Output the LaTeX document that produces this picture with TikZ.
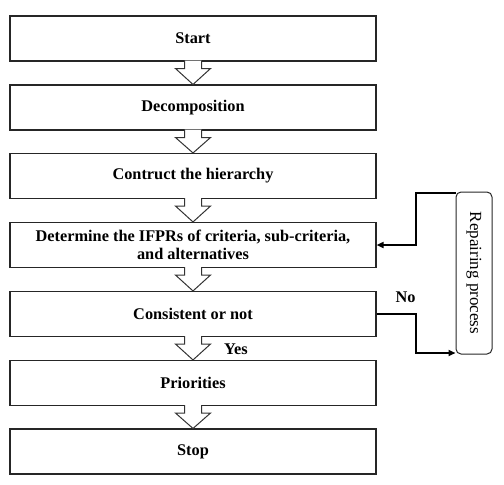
\documentclass[tikz,border=0pt]{standalone}
\usepackage{fontspec}
\setmainfont{Liberation Serif}
\usetikzlibrary{calc,arrows.meta}
\tikzset{
  box/.style={draw=black!85, line width=1.1pt, minimum width=366pt, minimum height=45pt, inner sep=0pt, align=center, font=\fontsize{16.3}{17.5}\selectfont\bfseries},
  hollow/.style={draw=black!80, line width=1pt, fill=white, line join=miter},
  conn/.style={draw=black, line width=1.6pt, -{Triangle[length=7pt,width=6pt]}},
  lbl/.style={font=\fontsize{16.3}{18}\selectfont\bfseries, inner sep=0pt}
}
\newcommand{\harrow}[2]{%
  \path[hollow] ($(#1.south)+(-8.5pt,1pt)$) -- ($(#1.south)+(-8.5pt,-7pt)$) -- ($(#1.south)+(-17.5pt,-7pt)$) -- (#2.north) -- ($(#1.south)+(17.5pt,-7pt)$) -- ($(#1.south)+(8.5pt,-7pt)$) -- ($(#1.south)+(8.5pt,1pt)$);}
\begin{document}
\begin{tikzpicture}[x=1pt,y=-1pt]
\useasboundingbox (0,0) rectangle (504,485);
\node[box] (b1) at (193,38.5) {Start};
\node[box] (b2) at (193,107.5) {Decomposition};
\node[box] (b3) at (193,176) {Contruct the hierarchy};
\node[box] (b4) at (193,245) {Determine the IFPRs of criteria, sub-criteria,\\and alternatives};
\node[box] (b5) at (193,314) {Consistent or not};
\node[box] (b6) at (193,383) {Priorities};
\node[box] (b7) at (193,451.5) {Stop};
\harrow{b1}{b2}
\harrow{b2}{b3}
\harrow{b3}{b4}
\harrow{b4}{b5}
\harrow{b5}{b6}
\harrow{b6}{b7}
\node[draw=black!85, line width=1pt, rounded corners=5pt, rotate=-90, minimum width=162pt, minimum height=36pt, inner sep=0pt, font=\fontsize{17}{18}\selectfont] (rp) at (474,273) {Repairing process};
\coordinate (c1) at (416,314);
\coordinate (c2) at (416,353);
\coordinate (c3) at (416,193);
\coordinate (c4) at (416,245);
\draw[conn] (b5.east |- c1) -- (c1) -- (c2) -- (c2 -| rp.south);
\draw[conn] (c3 -| rp.south) -- (c3) -- (c4) -- (c4 -| b4.east);
\node[lbl] (no) at (405.5,297) {No};
\node[lbl] (yes) at (236,349) {Yes};
\end{tikzpicture}
\end{document}
